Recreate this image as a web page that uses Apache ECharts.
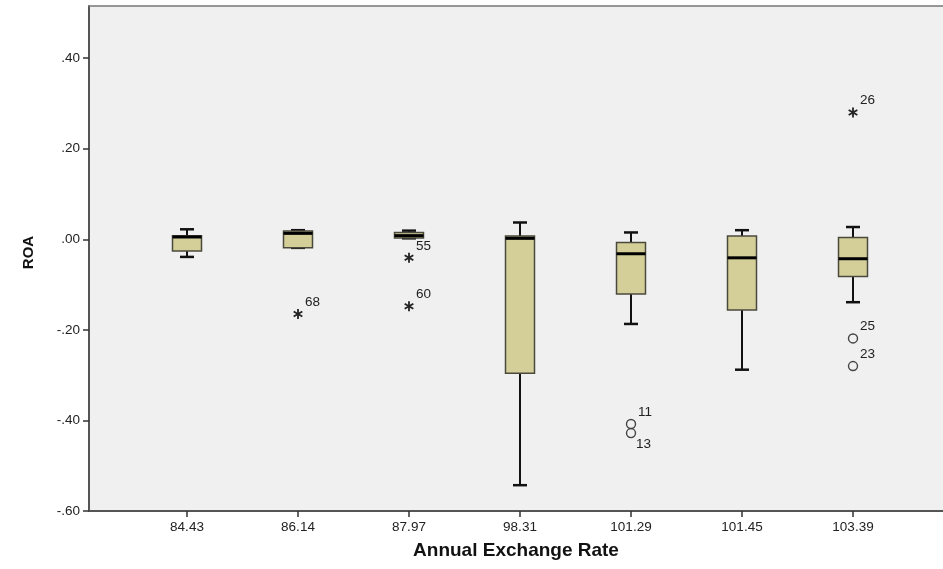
<!DOCTYPE html>
<html>
<head>
<meta charset="utf-8">
<script src="https://cdn.jsdelivr.net/npm/echarts@6/dist/echarts.min.js"></script>
<style>
html,body{margin:0;padding:0;background:#fff;}
#c{width:943px;height:569px;}
</style>
</head>
<body>
<div id="c"></div>
<script>
// ---- data ----
const categories = ['84.43', '86.14', '87.97', '98.31', '101.29', '101.45', '103.39'];
const whiskerLow  = [-0.039, -0.019, 0.002, -0.543, -0.187, -0.288, -0.139];
const q1          = [-0.026, -0.019, 0.003, -0.296, -0.121, -0.156, -0.082];
const median      = [ 0.005,  0.013, 0.008,  0.002, -0.032, -0.041, -0.043];
const q3          = [ 0.008,  0.018, 0.015,  0.007, -0.007,  0.007,  0.004];
const whiskerHigh = [ 0.022,  0.020, 0.019,  0.037,  0.015,  0.020,  0.027];

const outlierCat  = ['86.14', '87.97', '87.97', '101.29', '101.29', '103.39', '103.39', '103.39'];
const outlierVal  = [-0.165, -0.041, -0.148, -0.408, -0.428, 0.280, -0.219, -0.280];
const outlierId   = ['68', '55', '60', '11', '13', '26', '25', '23'];
const outlierKind = ['extreme', 'extreme', 'extreme', 'outlier', 'outlier', 'extreme', 'outlier', 'outlier'];
const labelBelowIds = ['13'];

const yTicks = [-0.6, -0.4, -0.2, 0, 0.2, 0.4];

// ---- build ----
const boxData = categories.map((c, i) => [i, whiskerLow[i], q1[i], median[i], q3[i], whiskerHigh[i]]);
const outData = outlierCat.map((c, i) => [categories.indexOf(c), outlierVal[i], outlierId[i], outlierKind[i]]);

function fmt(v) {
  let s = Math.abs(v).toFixed(2).replace(/^0\./, '.');
  return (v < -1e-9 ? '-' : '') + s;
}

const FONT = '"Liberation Sans", Arial, sans-serif';

function renderBox(params, api) {
  const x = api.value(0);
  const pLow = api.coord([x, api.value(1)]);
  const pQ1 = api.coord([x, api.value(2)]);
  const pMed = api.coord([x, api.value(3)]);
  const pQ3 = api.coord([x, api.value(4)]);
  const pHigh = api.coord([x, api.value(5)]);
  const cx = pMed[0];
  const hw = 14.5;
  const cap = 7;
  const wStyle = {stroke: '#111', lineWidth: 2};
  return {
    type: 'group',
    children: [
      {type: 'line', shape: {x1: cx, y1: pLow[1], x2: cx, y2: pQ1[1]}, style: wStyle},
      {type: 'line', shape: {x1: cx, y1: pQ3[1], x2: cx, y2: pHigh[1]}, style: wStyle},
      {type: 'line', shape: {x1: cx - cap, y1: pLow[1], x2: cx + cap, y2: pLow[1]}, style: {stroke: '#111', lineWidth: 2.5}},
      {type: 'line', shape: {x1: cx - cap, y1: pHigh[1], x2: cx + cap, y2: pHigh[1]}, style: {stroke: '#111', lineWidth: 2.5}},
      {type: 'rect', shape: {x: cx - hw, y: pQ3[1], width: 2 * hw, height: Math.max(pQ1[1] - pQ3[1], 1)},
        style: {fill: '#d4ce98', stroke: '#4a4a3c', lineWidth: 1.5}},
      {type: 'line', shape: {x1: cx - hw, y1: pMed[1], x2: cx + hw, y2: pMed[1]}, style: {stroke: '#000', lineWidth: 3}}
    ]
  };
}

function renderOut(params, api) {
  const p = api.coord([api.value(0), api.value(1)]);
  const id = outData[params.dataIndex][2];
  const kind = outData[params.dataIndex][3];
  const children = [];
  if (kind === 'outlier') {
    children.push({type: 'circle', shape: {cx: p[0], cy: p[1], r: 4.5}, style: {fill: 'none', stroke: '#444', lineWidth: 1.4}});
  } else {
    const r = 5;
    const st = {stroke: '#222', lineWidth: 1.8};
    children.push({type: 'line', shape: {x1: p[0], y1: p[1] - r, x2: p[0], y2: p[1] + r}, style: st});
    const dx = r * Math.cos(Math.PI / 6), dy = r * Math.sin(Math.PI / 6);
    children.push({type: 'line', shape: {x1: p[0] - dx, y1: p[1] - dy, x2: p[0] + dx, y2: p[1] + dy}, style: st});
    children.push({type: 'line', shape: {x1: p[0] - dx, y1: p[1] + dy, x2: p[0] + dx, y2: p[1] - dy}, style: st});
  }
  const below = labelBelowIds.indexOf(id) >= 0;
  children.push({
    type: 'text',
    style: {
      text: id, x: p[0] + (below ? 5 : 7), y: p[1] + (below ? 11 : -12),
      fill: '#222', font: '13.5px ' + FONT, align: 'left', verticalAlign: 'middle'
    }
  });
  return {type: 'group', children: children};
}

const chart = echarts.init(document.getElementById('c'));
chart.setOption({
  animation: false,
  backgroundColor: '#ffffff',
  grid: [
    {left: 89, right: 0, top: 6, bottom: 58, show: true, backgroundColor: '#f0f0f0', borderWidth: 0},
    {left: 131.5, right: 34.5, top: 6, bottom: 58}
  ],
  xAxis: [
    {
      gridIndex: 0, type: 'value', min: 0, max: 1, position: 'bottom',
      axisLine: {show: true, onZero: false, lineStyle: {color: '#555', width: 2}},
      axisTick: {show: false}, axisLabel: {show: false}, splitLine: {show: false},
      name: 'Annual Exchange Rate', nameLocation: 'middle', nameGap: 30,
      nameTextStyle: {fontFamily: FONT, fontSize: 19, fontWeight: 'bold', color: '#111'}
    },
    {
      gridIndex: 1, type: 'category', data: categories, position: 'bottom',
      axisLine: {show: true, onZero: false, lineStyle: {color: '#555', width: 0, opacity: 0}},
      axisTick: {show: true, alignWithLabel: true, length: 6, lineStyle: {color: '#333', width: 1.5}},
      axisLabel: {fontFamily: FONT, fontSize: 13.5, color: '#222', margin: 9},
      splitLine: {show: false}
    },
    {
      gridIndex: 0, type: 'value', min: 0, max: 1, position: 'top',
      axisLine: {show: true, onZero: false, lineStyle: {color: '#777', width: 1.5}},
      axisTick: {show: false}, axisLabel: {show: false}, splitLine: {show: false}
    }
  ],
  yAxis: [
    {
      gridIndex: 0, type: 'value', min: -0.6, max: 0.515,
      axisLine: {show: true, onZero: false, lineStyle: {color: '#555', width: 2}},
      axisTick: {show: true, customValues: yTicks, length: 6, lineStyle: {color: '#333', width: 1.5}},
      axisLabel: {customValues: yTicks, formatter: fmt, fontFamily: FONT, fontSize: 13.5, color: '#222', margin: 9},
      splitLine: {show: false},
      name: 'ROA', nameLocation: 'middle', nameGap: 53, nameRotate: 90,
      nameTextStyle: {fontFamily: FONT, fontSize: 15, fontWeight: 'bold', color: '#111', padding: [0, 0, 0, 12]}
    },
    {gridIndex: 1, type: 'value', min: -0.6, max: 0.515, show: false}
  ],
  series: [
    {
      type: 'custom', xAxisIndex: 1, yAxisIndex: 1, data: boxData,
      encode: {x: 0, y: [1, 2, 3, 4, 5]}, renderItem: renderBox, clip: false
    },
    {
      type: 'custom', xAxisIndex: 1, yAxisIndex: 1, data: outData.map(d => [d[0], d[1]]),
      encode: {x: 0, y: 1}, renderItem: renderOut, clip: false
    }
  ]
});
</script>
</body>
</html>
